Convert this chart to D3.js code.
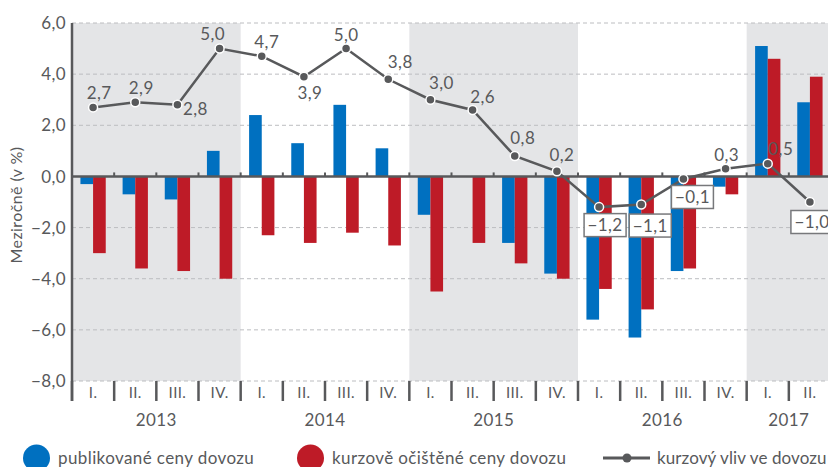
<!DOCTYPE html>
<html>
<head>
<meta charset="utf-8">
<script src="https://cdn.jsdelivr.net/npm/d3@7"></script>
<style>
	body { margin: 0; background: #fff; }
	text { font-family: Lato, "Open Sans", sans-serif; fill: #58595b; letter-spacing: 0.4px; }
</style>
</head>
<body>
<div id="svg_container"></div>
<script>

/* -----------------------
data
------------------------- */

var quarters = ['I.','II.','III.','IV.','I.','II.','III.','IV.','I.','II.','III.','IV.','I.','II.','III.','IV.','I.','II.'];
var years = ['2013','2014','2015','2016','2017'];
var yearOf = [0,0,0,0,1,1,1,1,2,2,2,2,3,3,3,3,4,4];

var publikovane = [-0.3,-0.7,-0.9,1.0, 2.4,1.3,2.8,1.1, -1.5,0.0,-2.6,-3.8, -5.6,-6.3,-3.7,-0.4, 5.1,2.9];
var ocistene    = [-3.0,-3.6,-3.7,-4.0, -2.3,-2.6,-2.2,-2.7, -4.5,-2.6,-3.4,-4.0, -4.4,-5.2,-3.6,-0.7, 4.6,3.9];
var kurzovyVliv = [2.7,2.9,2.8,5.0, 4.7,3.9,5.0,3.8, 3.0,2.6,0.8,0.2, -1.2,-1.1,-0.1,0.3, 0.5,-1.0];

var yTicks = [-8,-6,-4,-2,0,2,4,6];

var legendNames = ['publikované ceny dovozu','kurzově očištěné ceny dovozu','kurzový vliv ve dovozu'];

/* -----------------------
main variables
------------------------- */

var width = 828;
var height = 467;
var blue = '#0070c0';
var red = '#be1b27';
var grey = '#58595b';

var plotLeft = 72, plotRight = 831, plotTop = 23, plotBottom = 381;

var fmt = function (v) {
	return (v < 0 ? '\u2212' : '') + d3.format('.1f')(Math.abs(v)).replace('.', ',');
};

var svg = d3.select('#svg_container')
	.append('svg')
	.attr('width', width)
	.attr('height', height);

var x = d3.scaleBand()
	.domain(d3.range(quarters.length))
	.range([plotLeft, plotRight])
	.padding(0);

var xIn = d3.scaleBand()
	.domain(['pub','ocist'])
	.range([x.bandwidth() * 0.2, x.bandwidth() * 0.8]);

var y = d3.scaleLinear()
	.domain([-8, 6])
	.range([plotBottom, plotTop]);

/* -----------------------
background bands
------------------------- */

years.forEach(function (yr, k) {
	if (k % 2 != 0) return;
	var idx = d3.range(quarters.length).filter(function (i) { return yearOf[i] == k; });
	var x0 = x(idx[0]);
	var x1 = x(idx[idx.length - 1]) + x.bandwidth();
	svg.append('rect')
		.attr('x', x0)
		.attr('y', plotTop)
		.attr('width', x1 - x0)
		.attr('height', plotBottom - plotTop)
		.attr('fill', '#e4e5e7');
});

/* --- grid --- */

svg.append('g')
	.selectAll('line')
	.data(yTicks.filter(function (d) { return d != 0; }))
	.enter()
	.append('line')
	.attr('x1', plotLeft)
	.attr('x2', width)
	.attr('y1', function (d) { return y(d); })
	.attr('y2', function (d) { return y(d); })
	.attr('stroke', '#bcbdc0')
	.attr('stroke-width', 1)
	.attr('stroke-dasharray', '4,3');

svg.append('g')
	.selectAll('text')
	.data(yTicks)
	.enter()
	.append('text')
	.attr('x', 66)
	.attr('y', function (d) { return y(d); })
	.attr('dy', '0.36em')
	.attr('text-anchor', 'end')
	.style('font-size', '17px')
	.text(fmt);

/* -----------------------
bars
------------------------- */

var groups = svg.append('g')
	.selectAll('g')
	.data(d3.range(quarters.length))
	.enter()
	.append('g')
	.attr('transform', function (i) { return 'translate(' + x(i) + ',0)'; });

groups.append('rect')
	.attr('x', xIn('pub'))
	.attr('width', xIn.bandwidth())
	.attr('y', function (i) { return y(Math.max(0, publikovane[i])); })
	.attr('height', function (i) { return Math.abs(y(publikovane[i]) - y(0)); })
	.attr('fill', blue);

groups.append('rect')
	.attr('x', xIn('ocist'))
	.attr('width', xIn.bandwidth())
	.attr('y', function (i) { return y(Math.max(0, ocistene[i])); })
	.attr('height', function (i) { return Math.abs(y(ocistene[i]) - y(0)); })
	.attr('fill', red);

/* -----------------------
axes
------------------------- */

// zero line + small ticks
svg.append('line')
	.attr('x1', plotLeft).attr('x2', width)
	.attr('y1', y(0)).attr('y2', y(0))
	.attr('stroke', grey).attr('stroke-width', 2.5);

var bounds = d3.range(quarters.length + 1).map(function (i) { return plotLeft + i * x.bandwidth(); });

svg.append('g')
	.selectAll('line')
	.data(bounds.slice(1))
	.enter()
	.append('line')
	.attr('x1', function (d) { return d; })
	.attr('x2', function (d) { return d; })
	.attr('y1', y(0) - 4)
	.attr('y2', y(0))
	.attr('stroke', grey)
	.attr('stroke-width', 2);

// bottom separators
svg.append('g')
	.selectAll('line')
	.data(bounds)
	.enter()
	.append('line')
	.attr('x1', function (d) { return d; })
	.attr('x2', function (d) { return d; })
	.attr('y1', plotBottom)
	.attr('y2', plotBottom + 20)
	.attr('stroke', grey)
	.attr('stroke-width', 2.5);

// y axis line
svg.append('line')
	.attr('x1', plotLeft).attr('x2', plotLeft)
	.attr('y1', plotTop).attr('y2', plotBottom + 20)
	.attr('stroke', grey).attr('stroke-width', 2.5);

svg.append('g')
	.selectAll('text')
	.data(quarters)
	.enter()
	.append('text')
	.attr('x', function (d, i) { return x(i) + x.bandwidth() / 2; })
	.attr('y', plotBottom + 17)
	.attr('text-anchor', 'middle')
	.style('font-size', '15px')
	.text(function (d) { return d; });

svg.append('g')
	.selectAll('text')
	.data(years)
	.enter()
	.append('text')
	.attr('x', function (d, k) {
		var idx = d3.range(quarters.length).filter(function (i) { return yearOf[i] == k; });
		return d3.mean(idx, function (i) { return x(i) + x.bandwidth() / 2; });
	})
	.attr('y', 426)
	.attr('text-anchor', 'middle')
	.style('font-size', '17px')
	.text(function (d) { return d; });

svg.append('text')
	.attr('transform', 'translate(22,205) rotate(-90)')
	.attr('text-anchor', 'middle')
	.style('font-size', '16px')
	.text('Meziročně (v %)');

/* -----------------------
line
------------------------- */

var cx = function (i) { return x(i) + x.bandwidth() / 2; };

svg.append('path')
	.datum(d3.range(kurzovyVliv.length))
	.attr('fill', 'none')
	.attr('stroke', grey)
	.attr('stroke-width', 2.5)
	.attr('d', d3.line()
		.x(cx)
		.y(function (i) { return y(kurzovyVliv[i]); }));

svg.append('g')
	.selectAll('circle')
	.data(d3.range(kurzovyVliv.length))
	.enter()
	.append('circle')
	.attr('cx', cx)
	.attr('cy', function (i) { return y(kurzovyVliv[i]); })
	.attr('r', 4.5)
	.attr('fill', grey)
	.attr('stroke', '#fff')
	.attr('stroke-width', 1.5);

// label placement: [dx, dy, boxed]
var labelPos = [
	[6,-15],[6,-14],[18,4],[-7,-15],
	[5,-14],[6,16],[0,-14],[12,-17],
	[11,-17],[10,-13],[8,-18],[5,-16],
	[6,18,1],[9,21,1],[9,18,1],[1,-14],
	[13,-15],[2,20,1]
];

var labels = svg.append('g')
	.selectAll('g')
	.data(d3.range(kurzovyVliv.length))
	.enter()
	.append('g')
	.attr('transform', function (i) {
		return 'translate(' + (cx(i) + labelPos[i][0]) + ',' + (y(kurzovyVliv[i]) + labelPos[i][1]) + ')';
	});

labels.filter(function (i) { return labelPos[i][2]; })
	.append('rect')
	.attr('x', -21)
	.attr('y', -11.5)
	.attr('width', 42)
	.attr('height', 23)
	.attr('fill', '#fff')
	.attr('stroke', '#77787b')
	.attr('stroke-width', 1.5);

labels.append('text')
	.attr('text-anchor', 'middle')
	.attr('dy', '0.36em')
	.style('font-size', '17px')
	.text(function (i) { return fmt(kurzovyVliv[i]); });

/* -----------------------
legend
------------------------- */

var legend = svg.append('g');

legend.append('circle').attr('cx', 36.5).attr('cy', 458).attr('r', 13.5).attr('fill', blue);
legend.append('text').attr('x', 58).attr('y', 464).style('font-size', '17px').text(legendNames[0]);

legend.append('circle').attr('cx', 310.5).attr('cy', 458).attr('r', 13.5).attr('fill', red);
legend.append('text').attr('x', 332).attr('y', 464).style('font-size', '17px').text(legendNames[1]);

legend.append('line').attr('x1', 603).attr('x2', 650).attr('y1', 458).attr('y2', 458)
	.attr('stroke', grey).attr('stroke-width', 3);
legend.append('circle').attr('cx', 627).attr('cy', 458).attr('r', 4.5).attr('fill', grey);
legend.append('text').attr('x', 657).attr('y', 464)
	.style('font-size', '17px')
	.style('letter-spacing', '0.1px')
	.text(legendNames[2]);

</script>
</body>
</html>
